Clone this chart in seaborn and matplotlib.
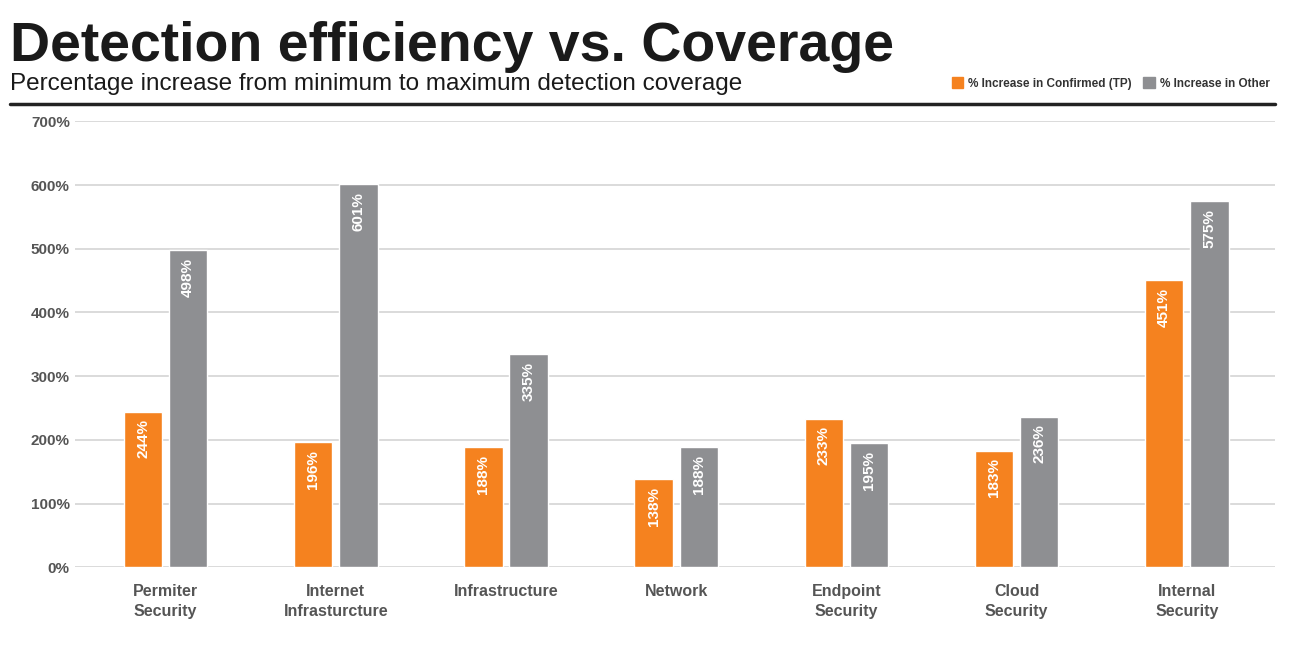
import pandas as pd
import matplotlib.pyplot as plt
import seaborn as sns
from matplotlib.patches import Patch

# Chart data
categories = ['Permiter\nSecurity', 'Internet\nInfrasturcture', 'Infrastructure', 'Network',
              'Endpoint\nSecurity', 'Cloud\nSecurity', 'Internal\nSecurity']
series_names = ['% Increase in Confirmed (TP)', '% Increase in Other']
confirmed = [244, 196, 188, 138, 233, 183, 451]
other = [498, 601, 335, 188, 195, 236, 575]
y_ticks = [0, 100, 200, 300, 400, 500, 600, 700]

df = pd.DataFrame({
    'category': categories * 2,
    'series': [series_names[0]] * len(categories) + [series_names[1]] * len(categories),
    'value': confirmed + other,
})

sns.set_style("white")
plt.rcParams['font.family'] = ['Liberation Sans', 'DejaVu Sans']

fig = plt.figure(figsize=(13, 6.46), dpi=100)
ax = fig.add_axes([0.058, 0.122, 0.923, 0.69])

palette = {series_names[0]: '#F5821F', series_names[1]: '#8E8F92'}
sns.barplot(data=df, x='category', y='value', hue='series', palette=palette,
            width=0.53, gap=0.15, saturation=1, ax=ax, legend=False)

# labels inside bars, rotated, near the top
for cont in ax.containers:
    for bar in cont:
        h = bar.get_height()
        ax.text(bar.get_x() + bar.get_width() / 2, h - 12, f'{int(h)}%',
                rotation=90, ha='center', va='top', color='white',
                fontsize=11, fontweight='bold')

ax.set_ylim(0, 700)
ax.set_xlim(-0.53, 6.52)
ax.set_yticks(y_ticks)
ax.set_yticklabels([f'{t}%' for t in y_ticks], color='#555555', fontsize=11, fontweight='bold')
ax.tick_params(axis='x', colors='#555555', labelsize=11.5, length=0, pad=12)
ax.tick_params(axis='y', length=0, pad=4)
for lab in ax.get_xticklabels():
    lab.set_fontweight('bold')
    lab.set_linespacing(1.4)
ax.set_xlabel('')
ax.set_ylabel('')
ax.yaxis.grid(True, color='#D4D4D4', linewidth=1.2)
ax.set_axisbelow(True)
for s in ax.spines.values():
    s.set_visible(False)

# title block
fig.text(0.008, 0.887, 'Detection efficiency vs. Coverage', fontsize=40, fontweight='bold',
         color='#1a1a1a', ha='left', va='bottom')
fig.text(0.008, 0.853, 'Percentage increase from minimum to maximum detection coverage',
         fontsize=17.5, color='#1a1a1a', ha='left', va='bottom')
fig.add_artist(plt.Line2D([0.008, 0.981], [0.839, 0.839], color='#222222', linewidth=2.5))

# legend
handles = [Patch(color=palette[n], label=n) for n in series_names]
fig.legend(handles=handles, loc='lower right', bbox_to_anchor=(0.985, 0.845), ncol=2,
           frameon=False, prop={'size': 8.5, 'weight': 'bold'}, handlelength=1.0,
           handleheight=1.0, handletextpad=0.4, columnspacing=1.0, labelcolor='#333333')

plt.savefig('out.png', dpi=100)
